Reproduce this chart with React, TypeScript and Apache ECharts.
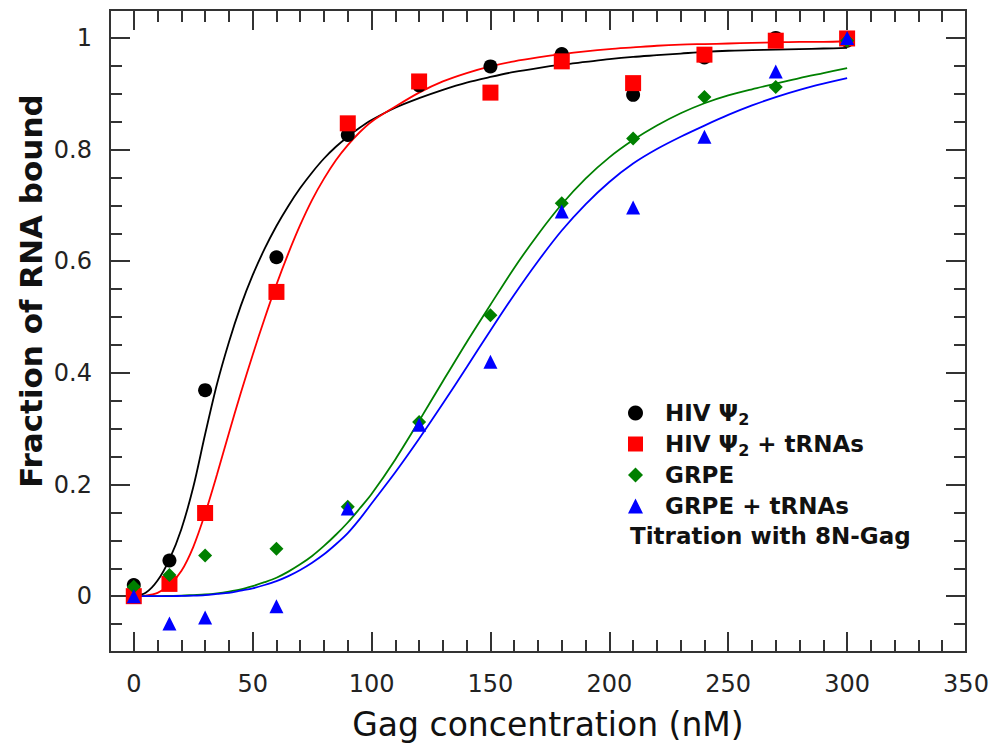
import React, { useEffect, useRef } from "react";
import * as echarts from "echarts";

// Measured concentrations (nM)
const concentrations = [0, 15, 30, 60, 90, 120, 150, 180, 210, 240, 270, 300];

// Fraction of RNA bound (markers)
const hivPsi2 = [0.02, 0.064, 0.369, 0.607, 0.826, 0.915, 0.949, 0.971, 0.898, 0.965, 1.0, 0.995];
const hivPsi2tRNA = [0.0, 0.022, 0.149, 0.545, 0.847, 0.922, 0.902, 0.958, 0.919, 0.97, 0.995, 0.999];
const grpe = [0.017, 0.038, 0.073, 0.085, 0.16, 0.312, 0.503, 0.704, 0.82, 0.894, 0.912, 0.995];
const grpetRNA = [0.0, -0.049, -0.038, -0.018, 0.157, 0.307, 0.42, 0.689, 0.696, 0.823, 0.94, 1.0];

// Fitted curves
const curveX = [0, 5, 10, 15, 20, 25, 30, 35, 40, 45, 50, 55, 60, 65, 70, 75, 80, 85, 90, 95, 100, 110, 120, 130, 140, 150, 160, 170, 180, 190, 200, 210, 220, 230, 240, 250, 260, 270, 280, 290, 300];
const fitHivPsi2 = [0, 0.006, 0.028, 0.066, 0.12, 0.195, 0.29, 0.38, 0.455, 0.52, 0.575, 0.622, 0.663, 0.699, 0.731, 0.759, 0.784, 0.805, 0.823, 0.839, 0.853, 0.875, 0.892, 0.907, 0.92, 0.93, 0.939, 0.946, 0.952, 0.957, 0.962, 0.966, 0.969, 0.972, 0.975, 0.977, 0.978, 0.979, 0.98, 0.981, 0.982];
const fitHivPsi2tRNA = [0, 0.001, 0.006, 0.02, 0.045, 0.088, 0.148, 0.218, 0.292, 0.364, 0.432, 0.497, 0.558, 0.614, 0.665, 0.71, 0.748, 0.781, 0.808, 0.831, 0.85, 0.877, 0.902, 0.922, 0.937, 0.949, 0.958, 0.965, 0.971, 0.976, 0.98, 0.983, 0.986, 0.988, 0.989, 0.99, 0.991, 0.992, 0.993, 0.993, 0.994];
const fitGrpe = [0, 0, 0, 0.0005, 0.001, 0.002, 0.003, 0.005, 0.008, 0.012, 0.018, 0.025, 0.033, 0.044, 0.057, 0.072, 0.09, 0.11, 0.132, 0.157, 0.183, 0.245, 0.314, 0.385, 0.455, 0.522, 0.588, 0.648, 0.702, 0.748, 0.786, 0.817, 0.843, 0.865, 0.883, 0.897, 0.908, 0.918, 0.928, 0.937, 0.946];
const fitGrpetRNA = [0, 0, 0, 0, 0.0005, 0.001, 0.002, 0.004, 0.006, 0.01, 0.014, 0.02, 0.027, 0.036, 0.047, 0.06, 0.075, 0.093, 0.113, 0.138, 0.166, 0.222, 0.282, 0.345, 0.41, 0.476, 0.54, 0.6, 0.655, 0.702, 0.742, 0.775, 0.801, 0.823, 0.843, 0.862, 0.879, 0.894, 0.907, 0.918, 0.928];

// Tick labels
const xMajorTicks = [0, 50, 100, 150, 200, 250, 300, 350];
const yMajorTicks = [0, 0.2, 0.4, 0.6, 0.8, 1];

const seriesNames = ["HIV Ψ2", "HIV Ψ2 + tRNAs", "GRPE", "GRPE + tRNAs"];
const seriesColors = ["#000000", "#ff0000", "#008000", "#0000ff"];
const seriesSymbols = ["circle", "rect", "diamond", "triangle"];
const seriesSizes = [14, 16, 14, 14];
const noteText = "Titration with 8N-Gag";
const xTitle = "Gag concentration (nM)";
const yTitle = "Fraction of RNA bound";

const FONT = '"DejaVu Sans", Verdana, sans-serif';
const AXIS_COLOR = "#333";

export default function App() {
  const ref = useRef<HTMLDivElement>(null);

  useEffect(() => {
    if (!ref.current) return;
    const chart = echarts.init(ref.current, undefined, { renderer: "svg" });

    const pts = [hivPsi2, hivPsi2tRNA, grpe, grpetRNA];
    const fits = [fitHivPsi2, fitHivPsi2tRNA, fitGrpe, fitGrpetRNA];

    const tickLine = { color: AXIS_COLOR, width: 2 };
    const base = {
      type: "value",
      axisLine: { show: false, onZero: false },
      splitLine: { show: false },
    };
    const xRange = { min: -10, max: 350 };
    const yRange = { min: -0.1, max: 1.05 };

    const xAxes = [
      {
        ...base, ...xRange, position: "bottom",
        axisTick: { inside: true, length: 20, lineStyle: tickLine, customValues: xMajorTicks },
        axisLabel: { customValues: xMajorTicks, fontSize: 24, fontFamily: FONT, color: "#222", margin: 20 },
      },
      {
        ...base, ...xRange, position: "bottom", interval: 10,
        axisTick: { inside: true, length: 12, lineStyle: tickLine },
        axisLabel: { show: false },
      },
      {
        ...base, ...xRange, position: "top",
        axisTick: { inside: true, length: 20, lineStyle: tickLine, customValues: xMajorTicks },
        axisLabel: { show: false },
      },
      {
        ...base, ...xRange, position: "top", interval: 10,
        axisTick: { inside: true, length: 12, lineStyle: tickLine },
        axisLabel: { show: false },
      },
    ];
    const yAxes = [
      {
        ...base, ...yRange, position: "left",
        axisTick: { inside: true, length: 20, lineStyle: tickLine, customValues: yMajorTicks },
        axisLabel: { customValues: yMajorTicks, fontSize: 24, fontFamily: FONT, color: "#222", margin: 18 },
      },
      {
        ...base, ...yRange, position: "left", interval: 0.05,
        axisTick: { inside: true, length: 12, lineStyle: tickLine },
        axisLabel: { show: false },
      },
      {
        ...base, ...yRange, position: "right",
        axisTick: { inside: true, length: 20, lineStyle: tickLine, customValues: yMajorTicks },
        axisLabel: { show: false },
      },
      {
        ...base, ...yRange, position: "right", interval: 0.05,
        axisTick: { inside: true, length: 12, lineStyle: tickLine },
        axisLabel: { show: false },
      },
    ];

    const lineSeries = fits.map((f, i) => ({
      name: "fit " + seriesNames[i],
      type: "line",
      xAxisIndex: 0,
      yAxisIndex: 0,
      data: curveX.map((x, j) => [x, f[j]]),
      showSymbol: false,
      smooth: 0.3,
      lineStyle: { color: seriesColors[i], width: 1.8 },
      itemStyle: { color: seriesColors[i] },
      z: 2,
      silent: true,
    }));

    const scatterSeries = pts.map((p, i) => ({
      name: seriesNames[i],
      type: "scatter",
      xAxisIndex: 0,
      yAxisIndex: 0,
      data: concentrations.map((x, j) => [x, p[j]]),
      symbol: seriesSymbols[i],
      symbolSize: seriesSizes[i],
      itemStyle: { color: seriesColors[i], opacity: 1 },
      z: 3 + i,
      silent: true,
    }));

    chart.setOption({
      animation: false,
      backgroundColor: "#ffffff",
      grid: {
        left: 110, top: 10, right: 26, bottom: 94,
        show: true, borderColor: AXIS_COLOR, borderWidth: 2, backgroundColor: "transparent",
      },
      xAxis: xAxes,
      yAxis: yAxes,
      legend: {
        data: seriesNames,
        orient: "vertical",
        left: 628,
        top: 399,
        padding: 0,
        itemWidth: 15,
        itemHeight: 15,
        itemGap: 3,
        selectedMode: false,
        formatter: (name: string) => name.replace("Ψ2", "Ψ{sub|2}"),
        textStyle: {
          fontFamily: FONT,
          fontWeight: "bold",
          fontSize: 23,
          color: "#111",
          lineHeight: 28,
          padding: [0, 0, 0, 17],
          rich: {
            sub: {
              fontFamily: FONT,
              fontWeight: "bold",
              fontSize: 16,
              lineHeight: 10,
              color: "#111",
              verticalAlign: "bottom",
            },
          },
        },
      },
      graphic: [
        {
          type: "text",
          left: 630,
          top: 524,
          style: { text: noteText, fontFamily: FONT, fontWeight: "bold", fontSize: 23, fill: "#111" },
        },
        {
          type: "text",
          x: 548,
          y: 724,
          style: { text: xTitle, fontFamily: FONT, fontSize: 33, fill: "#111", align: "center", verticalAlign: "middle" },
        },
        {
          type: "text",
          x: 31,
          y: 291,
          rotation: Math.PI / 2,
          style: { text: yTitle, fontFamily: FONT, fontWeight: "bold", fontSize: 31, fill: "#111", align: "center", verticalAlign: "middle" },
        },
      ],
      series: [...lineSeries, ...scatterSeries],
    });

    return () => chart.dispose();
  }, []);

  return (
    <div
      ref={ref}
      style={{ position: "absolute", left: 0, top: 0, width: 992, height: 746, background: "#fff" }}
    />
  );
}
